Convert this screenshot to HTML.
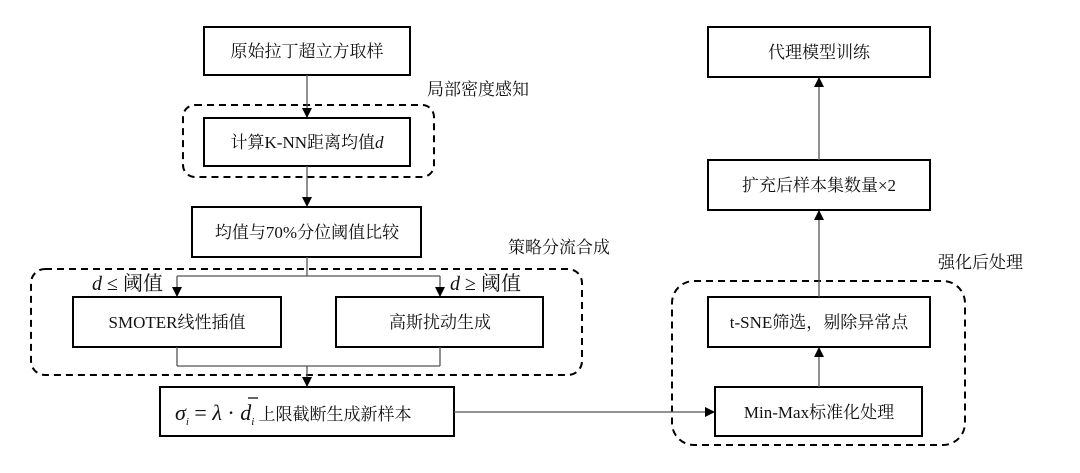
<!DOCTYPE html>
<html><head><meta charset="utf-8"><style>
html,body{margin:0;padding:0;background:#fff;width:1080px;height:473px;overflow:hidden}
text{font-family:"Liberation Serif","Noto Serif CJK SC",serif;font-size:17px;fill:#111}
.i{font-style:italic}
</style></head><body>
<svg width="1080" height="473" viewBox="0 0 1080 473" xmlns="http://www.w3.org/2000/svg">
<defs><marker id="a" markerWidth="10" markerHeight="10" refX="9" refY="5" orient="auto" markerUnits="userSpaceOnUse"><path d="M0,0 L10,5 L0,10 z" fill="#000"/></marker></defs>
<g fill="none" stroke="#000">
<!-- dashed groups -->
<rect x="183" y="105" width="251" height="72" rx="12" stroke-width="2" stroke-dasharray="7,5"/>
<rect x="31" y="269" width="551" height="106" rx="14" stroke-width="2" stroke-dasharray="7,5"/>
<rect x="672" y="281" width="293" height="164" rx="22" stroke-width="2" stroke-dasharray="7,5"/>
<!-- boxes -->
<g stroke-width="2">
<rect x="204" y="27" width="206" height="48"/>
<rect x="204" y="118" width="206" height="48"/>
<rect x="192" y="207" width="229" height="50"/>
<rect x="73" y="297" width="208" height="50"/>
<rect x="336" y="297" width="207" height="50"/>
<rect x="160" y="387" width="294" height="49"/>
<rect x="708" y="27" width="222" height="50"/>
<rect x="708" y="160" width="222" height="50"/>
<rect x="708" y="297" width="222" height="50"/>
<rect x="715" y="387" width="207" height="49"/>
</g>
<!-- connectors -->
<g stroke="#555" stroke-width="1.3">
<line x1="307" y1="75" x2="307" y2="117" marker-end="url(#a)"/>
<line x1="307" y1="166" x2="307" y2="206" marker-end="url(#a)"/>
<line x1="307" y1="257" x2="307" y2="276"/>
<line x1="177" y1="276" x2="440" y2="276"/>
<line x1="177" y1="276" x2="177" y2="296" marker-end="url(#a)"/>
<line x1="440" y1="276" x2="440" y2="296" marker-end="url(#a)"/>
<line x1="177" y1="347" x2="177" y2="366"/>
<line x1="440" y1="347" x2="440" y2="366"/>
<line x1="177" y1="366" x2="440" y2="366"/>
<line x1="307" y1="366" x2="307" y2="386" marker-end="url(#a)"/>
<line x1="454" y1="412" x2="714" y2="412" marker-end="url(#a)"/>
<line x1="819" y1="387" x2="819" y2="348" marker-end="url(#a)"/>
<line x1="819" y1="297" x2="819" y2="211" marker-end="url(#a)"/>
<line x1="819" y1="160" x2="819" y2="78" marker-end="url(#a)"/>
</g>
</g>
<g text-anchor="middle">
<text x="307" y="57">原始拉丁超立方取样</text>
<text x="307" y="148">计算K-NN距离均值<tspan class="i">d</tspan></text>
<text x="307" y="238">均值与70%分位阈值比较</text>
<text x="177" y="328">SMOTER线性插值</text>
<text x="440" y="328">高斯扰动生成</text>
<text x="819" y="58">代理模型训练</text>
<text x="819" y="191">扩充后样本集数量×2</text>
<text x="819" y="328">t-SNE筛选，剔除异常点</text>
<text x="819" y="418">Min-Max标准化处理</text>
</g>
<text x="427" y="95">局部密度感知</text>
<text x="508" y="253">策略分流合成</text>
<text x="938" y="268">强化后处理</text>
<text x="92" y="290" style="font-size:20px"><tspan class="i">d</tspan> ≤ 阈值</text>
<text x="450" y="290" style="font-size:20px"><tspan class="i">d</tspan> ≥ 阈值</text>
<text x="175" y="420" style="font-size:22px"><tspan class="i">σ</tspan><tspan class="i" style="font-size:11px" dy="5">i</tspan><tspan dy="-5"> = </tspan><tspan class="i">λ</tspan> · <tspan class="i">d</tspan><tspan class="i" style="font-size:11px" dy="5">i</tspan><tspan dy="-5" style="font-size:17px"> 上限截断生成新样本</tspan></text>
<line x1="248" y1="398" x2="258" y2="398" stroke="#000" stroke-width="1.2"/>
</svg>
</body></html>
